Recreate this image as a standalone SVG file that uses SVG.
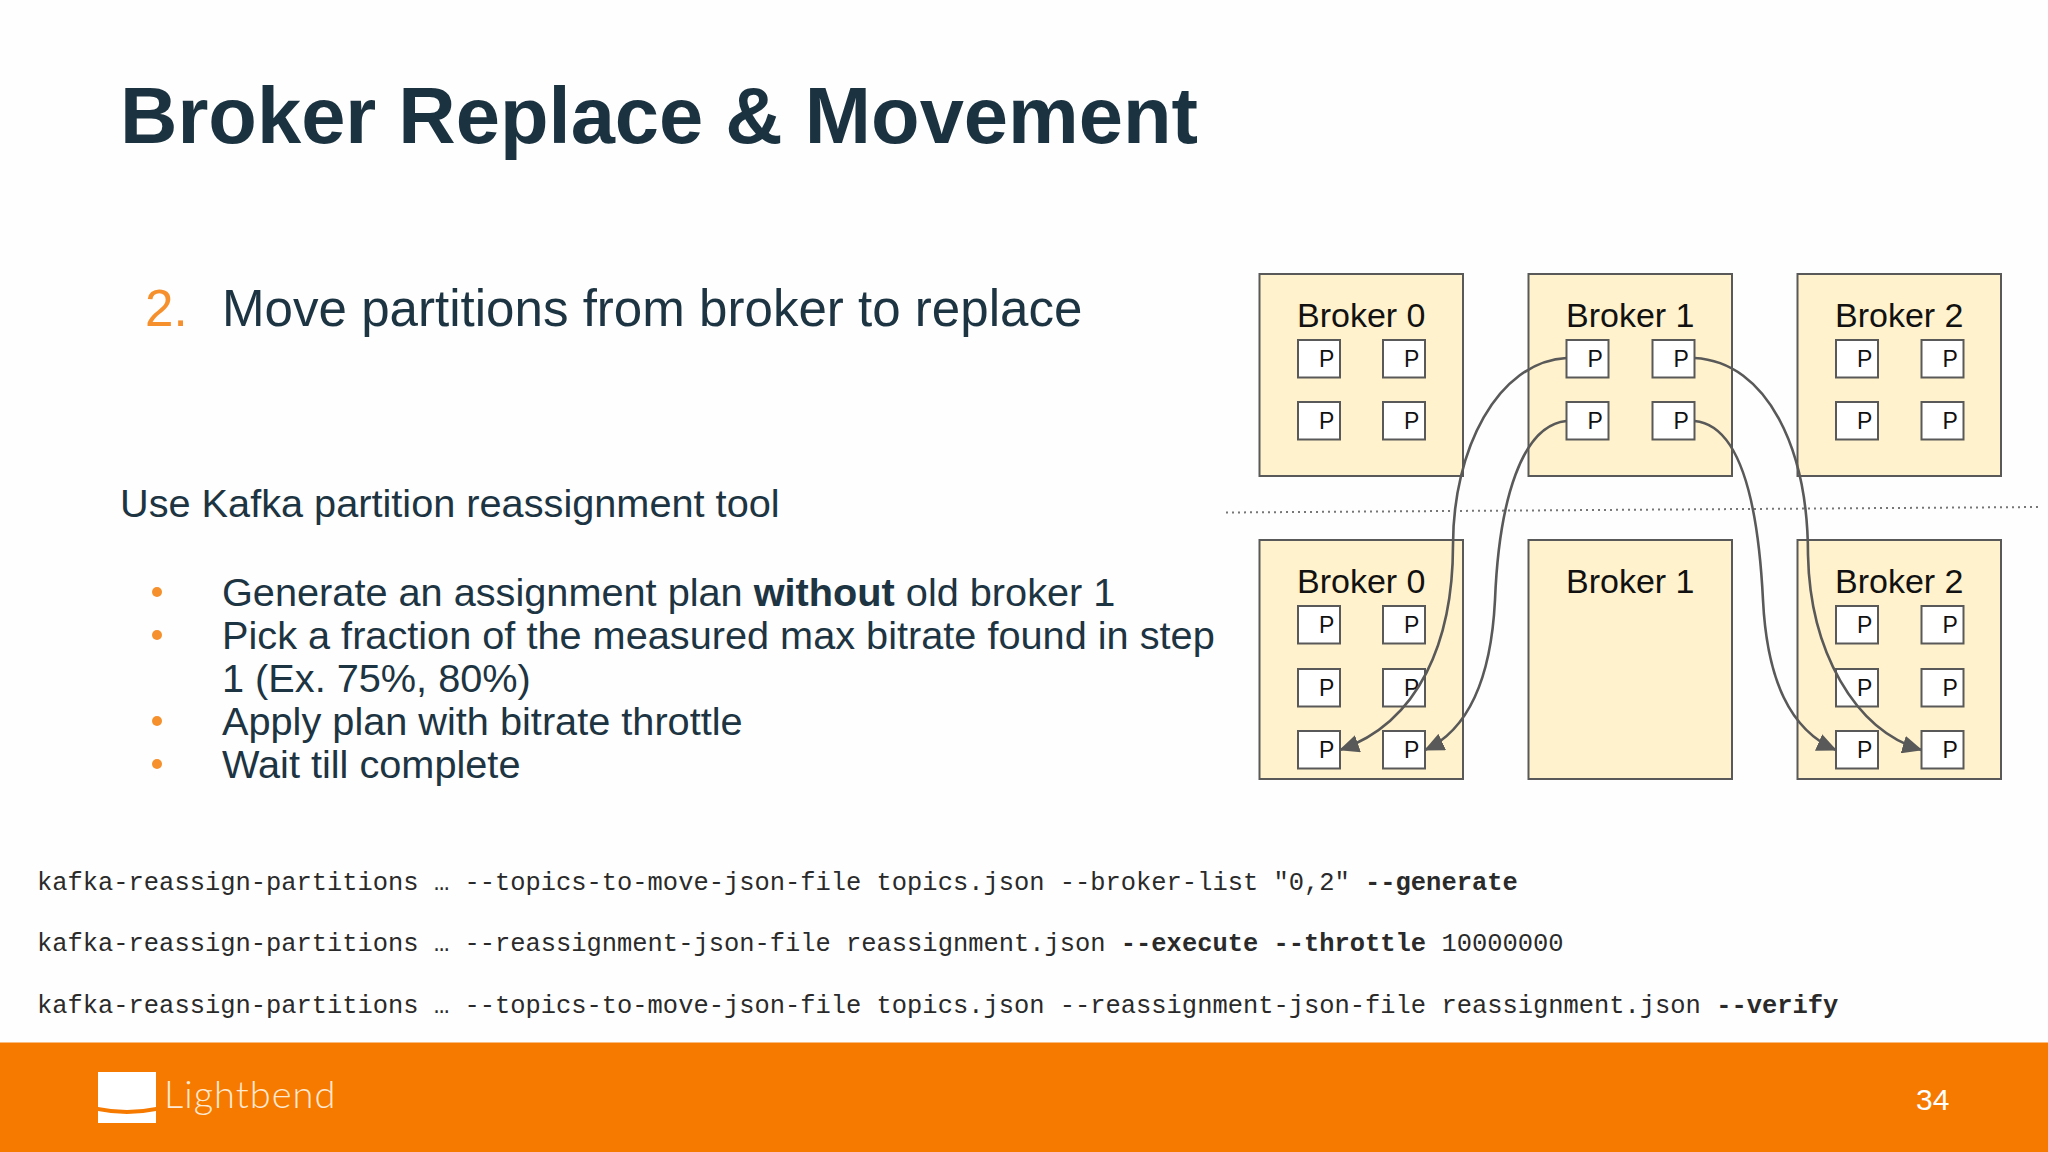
<svg xmlns="http://www.w3.org/2000/svg" width="2048" height="1152" viewBox="0 0 2048 1152">
<style>
text{font-family:"Liberation Sans",Arial,sans-serif}
.t{font-size:79.5px;font-weight:700;fill:#1b3240}
.h{font-size:51.1px;fill:#1d3442}
.b{font-size:39.7px;fill:#1d3442}
.o{fill:#f6902c}
.m{font-family:"Liberation Mono","Courier New",monospace;font-size:25.45px;fill:#2a2a2a}
.m tspan.k{font-weight:700}
.bx{fill:#fff2cc;stroke:#595959;stroke-width:2}
.p{fill:#fff;stroke:#595959;stroke-width:2}
.n{font-size:34px;fill:#111}
.q{font-size:23px;fill:#111}
.c{fill:none;stroke:#595959;stroke-width:2.6;marker-end:url(#a)}
</style>
<defs>
<marker id="a" markerUnits="userSpaceOnUse" markerWidth="20" markerHeight="18" refX="19" refY="9" orient="auto"><path d="M0 0L20 9L0 18Z" fill="#595959"/></marker>
<g id="pb"><rect class="p" x="0" y="0" width="42" height="37.5"/><text class="q" x="21" y="27">P</text></g>
</defs>
<rect width="2048" height="1152" fill="#fefefe"/>
<text class="t" x="120" y="143">Broker Replace &amp; Movement</text>
<text class="h o" x="145" y="326">2.</text>
<text class="h" x="222" y="326">Move partitions from broker to replace</text>
<text class="b" x="120" y="517">Use Kafka partition reassignment tool</text>
<g>
<circle class="o" cx="157" cy="592" r="5"/><text class="b" x="222" y="606">Generate an assignment plan <tspan font-weight="700">without</tspan> old broker 1</text>
<circle class="o" cx="157" cy="635" r="5"/><text class="b" x="222" y="649">Pick a fraction of the measured max bitrate found in step</text>
<text class="b" x="222" y="692">1 (Ex. 75%, 80%)</text>
<circle class="o" cx="157" cy="721" r="5"/><text class="b" x="222" y="735">Apply plan with bitrate throttle</text>
<circle class="o" cx="157" cy="764" r="5"/><text class="b" x="222" y="778">Wait till complete</text>
</g>
<g id="top-broker-0"><rect class="bx" x="1259.5" y="274" width="203.5" height="202"/><text class="n" x="1297" y="327">Broker 0</text>
<use href="#pb" x="1298" y="340"/><use href="#pb" x="1383" y="340"/><use href="#pb" x="1298" y="402"/><use href="#pb" x="1383" y="402"/></g>
<g id="top-broker-1"><rect class="bx" x="1528.5" y="274" width="203.5" height="202"/><text class="n" x="1566" y="327">Broker 1</text>
<use href="#pb" x="1566.5" y="340"/><use href="#pb" x="1652.5" y="340"/><use href="#pb" x="1566.5" y="402"/><use href="#pb" x="1652.5" y="402"/></g>
<g id="top-broker-2"><rect class="bx" x="1797.5" y="274" width="203.5" height="202"/><text class="n" x="1835" y="327">Broker 2</text>
<use href="#pb" x="1836" y="340"/><use href="#pb" x="1921.5" y="340"/><use href="#pb" x="1836" y="402"/><use href="#pb" x="1921.5" y="402"/></g>
<g id="bottom-broker-0"><rect class="bx" x="1259.5" y="540" width="203.5" height="239"/><text class="n" x="1297" y="593">Broker 0</text>
<use href="#pb" x="1298" y="606"/><use href="#pb" x="1383" y="606"/><use href="#pb" x="1298" y="669"/><use href="#pb" x="1383" y="669"/><use href="#pb" x="1298" y="731"/><use href="#pb" x="1383" y="731"/></g>
<g id="bottom-broker-1"><rect class="bx" x="1528.5" y="540" width="203.5" height="239"/><text class="n" x="1566" y="593">Broker 1</text></g>
<g id="bottom-broker-2"><rect class="bx" x="1797.5" y="540" width="203.5" height="239"/><text class="n" x="1835" y="593">Broker 2</text>
<use href="#pb" x="1836" y="606"/><use href="#pb" x="1921.5" y="606"/><use href="#pb" x="1836" y="669"/><use href="#pb" x="1921.5" y="669"/><use href="#pb" x="1836" y="731"/><use href="#pb" x="1921.5" y="731"/></g>
<line x1="1226" y1="512.5" x2="2040" y2="507" stroke="#777" stroke-width="2" stroke-dasharray="2 4"/>
<g id="connectors">
<path class="c" d="M1566.5 358C1497 362 1453 450 1453 545C1453 640 1420 722 1340 750"/>
<path class="c" d="M1566.5 421C1522 425 1499 500 1495 600C1491 680 1468 730 1425 750"/>
<path class="c" d="M1694.5 421C1740 425 1758 500 1763 600C1767 680 1790 730 1836 750"/>
<path class="c" d="M1694.5 358C1768 362 1808 450 1808 555C1810 650 1854 730 1921.5 750"/>
</g>
<text class="m" x="37" y="889.5">kafka-reassign-partitions … --topics-to-move-json-file topics.json --broker-list "0,2" <tspan class="k">--generate</tspan></text>
<text class="m" x="37" y="951">kafka-reassign-partitions … --reassignment-json-file reassignment.json <tspan class="k">--execute --throttle</tspan> 10000000</text>
<text class="m" x="37" y="1012.5">kafka-reassign-partitions … --topics-to-move-json-file topics.json --reassignment-json-file reassignment.json <tspan class="k">--verify</tspan></text>
<rect y="1042.5" width="2048" height="109.5" fill="#f77a00"/>
<g id="logo">
<path d="M98 1072H156V1107Q127 1113 98 1107Z" fill="#fff"/>
<path d="M98 1111Q127 1117 156 1111V1123H98Z" fill="#fff"/>
<text x="164" y="1108" font-size="38" style="font-family:Lato,sans-serif;font-weight:300" fill="#ffe9d2" letter-spacing="1">Lightbend</text>
</g>
<text x="1916" y="1110" font-size="30" fill="#fff">34</text>
</svg>
